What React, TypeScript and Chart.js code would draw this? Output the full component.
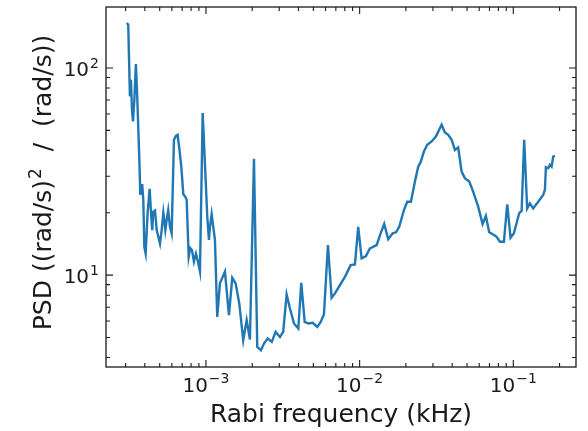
import React, { useEffect, useRef } from "react";
import { Chart, registerables } from "chart.js";

Chart.register(...registerables);

// Rabi frequency (kHz)
const freqKHz: number[] = [
  3.05e-4, 3.12e-4, 3.2e-4, 3.25e-4, 3.3e-4, 3.35e-4, 3.42e-4, 3.5e-4, 3.57e-4, 3.68e-4,
  3.74e-4, 3.79e-4, 3.85e-4, 3.91e-4, 3.97e-4, 4.05e-4, 4.17e-4, 4.3e-4, 4.39e-4, 4.47e-4,
  4.54e-4, 4.66e-4, 4.78e-4, 4.9e-4, 5.02e-4, 5.15e-4, 5.28e-4, 5.44e-4, 5.55e-4, 5.68e-4,
  5.83e-4, 5.98e-4, 6.19e-4, 6.38e-4, 6.54e-4, 6.7e-4, 6.91e-4, 7.12e-4, 7.33e-4, 7.49e-4,
  7.72e-4, 7.9e-4, 8.11e-4, 8.35e-4, 8.61e-4, 8.83e-4, 9.14e-4, 9.52e-4, 1.0e-3, 1.02e-3,
  1.046e-3, 1.062e-3, 1.089e-3, 1.116e-3, 1.144e-3, 1.184e-3, 1.233e-3, 1.329e-3, 1.411e-3, 1.483e-3,
  1.56e-3, 1.647e-3, 1.748e-3, 1.84e-3, 1.933e-3, 2.053e-3, 2.157e-3, 2.28e-3, 2.385e-3, 2.52e-3,
  2.68e-3, 2.84e-3, 3.03e-3, 3.18e-3, 3.35e-3, 3.52e-3, 3.74e-3, 3.99e-3, 4.17e-3, 4.39e-3,
  4.63e-3, 4.95e-3, 5.3e-3, 5.58e-3, 5.86e-3, 6.22e-3, 6.57e-3, 6.91e-3, 7.44e-3, 8.02e-3,
  8.43e-3, 8.74e-3, 9.32e-3, 9.79e-3, 1.03e-2, 1.099e-2, 1.167e-2, 1.29e-2, 1.37e-2, 1.445e-2,
  1.535e-2, 1.64e-2, 1.723e-2, 1.81e-2, 1.942e-2, 2.04e-2, 2.157e-2, 2.29e-2, 2.406e-2, 2.494e-2,
  2.62e-2, 2.754e-2, 2.94e-2, 3.136e-2, 3.417e-2, 3.59e-2, 3.77e-2, 3.97e-2, 4.17e-2, 4.38e-2,
  4.61e-2, 4.84e-2, 5.17e-2, 5.48e-2, 5.91e-2, 6.31e-2, 6.63e-2, 6.97e-2, 7.4e-2, 7.79e-2,
  8.18e-2, 8.69e-2, 9.13e-2, 9.6e-2, 0.1009, 0.1093, 0.1133, 0.1177, 0.1231, 0.1282,
  0.1347, 0.1452, 0.1565, 0.1606, 0.163, 0.1687, 0.173, 0.1775, 0.1818, 0.1865,
];

// PSD ((rad/s)^2 / (rad/s))
const psd: number[] = [
  165, 162, 72.9, 87.8, 62.9, 55.2, 70.2, 104.5, 72.9, 37.3,
  24.4, 27.2, 27.2, 23.1, 13.7, 12.7, 19.95, 26.1, 20.0, 16.5,
  20.2, 20.5, 16.5, 15.3, 14.2, 16.5, 20.0, 16.5, 18.5, 20.6,
  17.1, 15.9, 45.0, 47.0, 47.6, 41.2, 33.4, 24.6, 23.9, 23.1,
  12.26, 13.5, 13.2, 11.6, 12.7, 11.8, 10.4, 60.6, 26.7, 19.1,
  14.8, 17.1, 19.7, 17.1, 14.8, 6.28, 9.12, 10.4, 6.4, 9.7,
  9.12, 7.3, 4.85, 6.06, 4.89, 36.4, 4.5, 4.34, 4.67, 4.94,
  4.76, 5.32, 5.03, 5.32, 8.06, 6.9, 5.84, 5.52, 9.18, 5.94,
  5.84, 5.88, 5.62, 5.94, 6.48, 13.97, 7.77, 8.16, 8.95, 9.81,
  10.57, 11.18, 11.27, 17.1, 12.05, 12.36, 13.46, 13.97, 15.91, 17.65,
  14.88, 15.91, 16.09, 17.1, 20.6, 22.6, 22.6, 28.3, 33.4, 35.1,
  39.5, 42.6, 44.2, 46.7, 53.2, 48.8, 47.6, 45.0, 40.2, 41.3,
  31.6, 29.4, 28.3, 25.3, 21.4, 17.65, 19.3, 16.09, 15.7, 15.3,
  14.5, 14.5, 21.98, 15.15, 15.91, 19.9, 20.4, 45.0, 21.0, 22.2,
  21.0, 22.6, 24.4, 25.8, 33.2, 32.8, 34.1, 33.4, 37.3, 37.6,
];

const xMin = 2.236e-4;
const xMax = 0.2559;
const yMin = 3.6;
const yMax = 197;

const xMajorExps: number[] = [-3, -2, -1];
const yMajorExps: number[] = [1, 2];
const xLabel = "Rabi frequency (kHz)";
const yLabelMain = "PSD ((rad/s)";
const yLabelSup = "2";
const yLabelRest = "  /  (rad/s))";

const FONT = "'DejaVu Sans', 'Liberation Sans', sans-serif";
const INK = "#1a1a1a";

function drawPower(
  ctx: CanvasRenderingContext2D,
  exp: number,
  x: number,
  baseline: number,
  align: "center" | "right"
) {
  const base = "10";
  const sup = exp < 0 ? "\u2212" + String(-exp) : String(exp);
  ctx.font = `20px ${FONT}`;
  const wb = ctx.measureText(base).width;
  ctx.font = `14px ${FONT}`;
  const ws = ctx.measureText(sup).width;
  const total = wb + ws + 1;
  const start = align === "center" ? x - total / 2 : x - total;
  ctx.textAlign = "left";
  ctx.textBaseline = "alphabetic";
  ctx.font = `20px ${FONT}`;
  ctx.fillText(base, start, baseline);
  ctx.font = `14px ${FONT}`;
  ctx.fillText(sup, start + wb + 1, baseline - 8.5);
}

const framePlugin = {
  id: "mplFrame",
  afterDraw(chart: any) {
    const { ctx, chartArea } = chart;
    const xs = chart.scales.x;
    const ys = chart.scales.y;
    const { left, right, top, bottom } = chartArea;
    ctx.save();
    ctx.strokeStyle = INK;
    ctx.lineWidth = 1.3;
    ctx.strokeRect(left, top, right - left, bottom - top);

    const majorLen = 7;
    const minorLen = 4;
    ctx.lineWidth = 1.1;
    ctx.beginPath();
    // x ticks
    for (let e = -5; e <= 1; e++) {
      for (let m = 1; m <= 9; m++) {
        const v = m * Math.pow(10, e);
        if (v < xMin || v > xMax) continue;
        const px = xs.getPixelForValue(v);
        const len = m === 1 ? majorLen : minorLen;
        ctx.moveTo(px, bottom);
        ctx.lineTo(px, bottom - len);
        ctx.moveTo(px, top);
        ctx.lineTo(px, top + len);
      }
    }
    // y ticks
    for (let e = -1; e <= 3; e++) {
      for (let m = 1; m <= 9; m++) {
        const v = m * Math.pow(10, e);
        if (v < yMin || v > yMax) continue;
        const py = ys.getPixelForValue(v);
        const len = m === 1 ? majorLen : minorLen;
        ctx.moveTo(left, py);
        ctx.lineTo(left + len, py);
        ctx.moveTo(right, py);
        ctx.lineTo(right - len, py);
      }
    }
    ctx.stroke();

    // tick labels
    ctx.fillStyle = INK;
    for (const e of xMajorExps) {
      const px = xs.getPixelForValue(Math.pow(10, e));
      drawPower(ctx, e, px, bottom + 24.5, "center");
    }
    for (const e of yMajorExps) {
      const py = ys.getPixelForValue(Math.pow(10, e));
      drawPower(ctx, e, left - 7, py + 8.3, "right");
    }

    // x axis label
    ctx.font = `25px ${FONT}`;
    ctx.textAlign = "center";
    ctx.textBaseline = "alphabetic";
    ctx.fillText(xLabel, (left + right) / 2, 422);

    // y axis label (rotated)
    ctx.save();
    ctx.translate(51, 183);
    ctx.rotate(-Math.PI / 2);
    ctx.font = `25px ${FONT}`;
    const w1 = ctx.measureText(yLabelMain).width;
    const w3 = ctx.measureText(yLabelRest).width;
    ctx.font = `17px ${FONT}`;
    const w2 = ctx.measureText(yLabelSup).width + 1;
    const total = w1 + w2 + w3;
    let cx = -total / 2;
    ctx.textAlign = "left";
    ctx.font = `25px ${FONT}`;
    ctx.fillText(yLabelMain, cx, 0);
    cx += w1 + 1;
    ctx.font = `17px ${FONT}`;
    ctx.fillText(yLabelSup, cx, -10);
    cx += w2;
    ctx.font = `25px ${FONT}`;
    ctx.fillText(yLabelRest, cx, 0);
    ctx.restore();

    ctx.restore();
  },
};

export default function App() {
  const canvasRef = useRef<HTMLCanvasElement | null>(null);

  useEffect(() => {
    const canvas = canvasRef.current;
    if (!canvas) return;
    const points = freqKHz.map((f, i) => ({ x: f, y: psd[i] }));
    const chart = new Chart(canvas, {
      type: "line",
      data: {
        datasets: [
          {
            data: points,
            borderColor: "#1f77b4",
            borderWidth: 2.4,
            pointRadius: 0,
            tension: 0,
            fill: false,
          },
        ],
      },
      options: {
        animation: false,
        responsive: false,
        maintainAspectRatio: false,
        devicePixelRatio: 1,
        layout: { padding: { left: 106, right: 12, top: 7, bottom: 64 } },
        plugins: {
          legend: { display: false },
          tooltip: { enabled: false },
          title: { display: false },
        },
        scales: {
          x: { type: "logarithmic", min: xMin, max: xMax, display: false },
          y: { type: "logarithmic", min: yMin, max: yMax, display: false },
        },
      },
      plugins: [framePlugin],
    });
    return () => chart.destroy();
  }, []);

  return (
    <div style={{ position: "fixed", left: 0, top: 0, width: 588, height: 431, background: "#fff" }}>
      <canvas ref={canvasRef} width={588} height={431} style={{ width: 588, height: 431, display: "block" }} />
    </div>
  );
}
